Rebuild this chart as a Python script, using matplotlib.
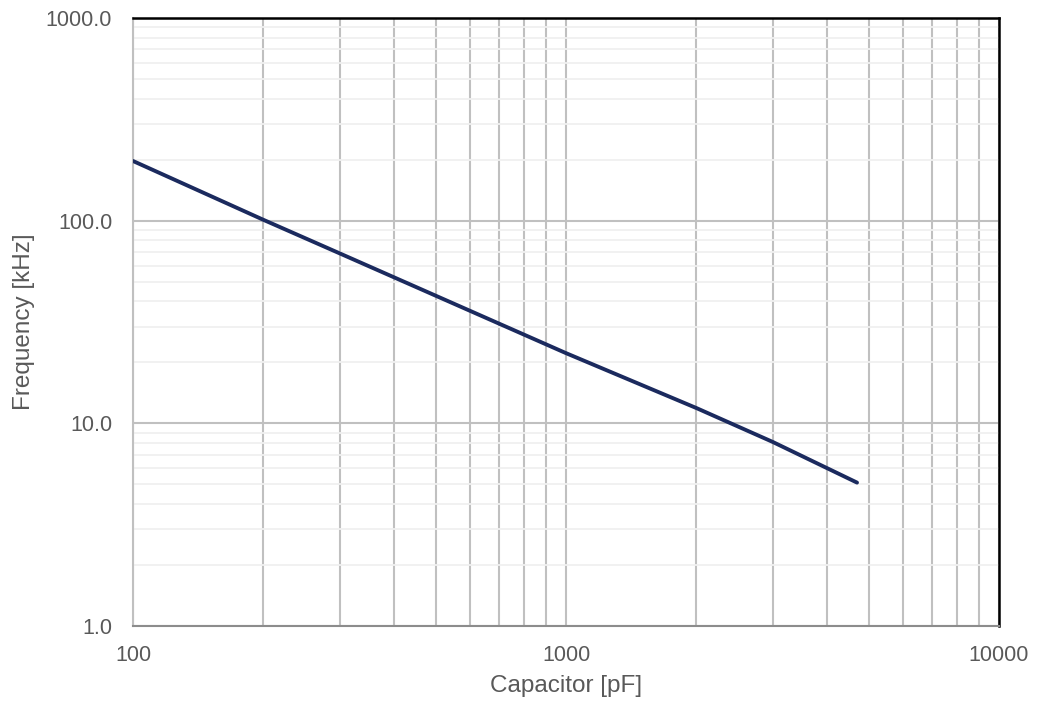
import matplotlib
matplotlib.use("Agg")
import matplotlib.pyplot as plt
from matplotlib.ticker import LogLocator, FixedLocator, FuncFormatter, NullFormatter

plt.rcParams['font.family'] = ['Liberation Sans', 'DejaVu Sans']

# values
capacitor_pf = [100, 200, 300, 1000, 2000, 3000, 4700]
frequency_khz = [197, 101, 69, 22.2, 11.9, 8.1, 5.1]

x_ticks = [100, 1000, 10000]
y_ticks = [1, 10, 100, 1000]

text_gray = '#595959'
grid_gray = '#c0c0c0'
minor_gray = '#f0f0f0'

fig = plt.figure(figsize=(10.4, 7.06), dpi=100)
ax = fig.add_axes([133 / 1040, 1 - 626 / 706, 866 / 1040, 608 / 706])

ax.set_xscale('log')
ax.set_yscale('log')
ax.set_xlim(100, 10000)
ax.set_ylim(1, 1000)

ax.plot(capacitor_pf, frequency_khz, color='#1b2a5e', linewidth=2.8,
        solid_capstyle='round', zorder=3)

ax.xaxis.set_major_locator(FixedLocator(x_ticks))
ax.xaxis.set_minor_locator(LogLocator(base=10, subs=range(2, 10)))
ax.yaxis.set_major_locator(FixedLocator(y_ticks))
ax.yaxis.set_minor_locator(LogLocator(base=10, subs=range(2, 10)))
ax.xaxis.set_major_formatter(FuncFormatter(lambda v, p: f'{v:.0f}'))
ax.yaxis.set_major_formatter(FuncFormatter(lambda v, p: f'{v:.1f}'))
ax.xaxis.set_minor_formatter(NullFormatter())
ax.yaxis.set_minor_formatter(NullFormatter())

ax.grid(True, which='major', axis='both', color=grid_gray, linewidth=1.5)
ax.grid(True, which='minor', axis='x', color=grid_gray, linewidth=1.5)
ax.grid(True, which='minor', axis='y', color=minor_gray, linewidth=1.3)
ax.set_axisbelow(True)

ax.tick_params(which='both', length=0, labelsize=15.5, colors=text_gray)
ax.tick_params(axis='y', pad=15)
ax.tick_params(axis='x', pad=14)

ax.spines['top'].set_color('black')
ax.spines['top'].set_linewidth(1.8)
ax.spines['right'].set_color('black')
ax.spines['right'].set_linewidth(1.8)
ax.spines['left'].set_color(grid_gray)
ax.spines['left'].set_linewidth(1.5)
ax.spines['bottom'].set_color('#8c8c8c')
ax.spines['bottom'].set_linewidth(1.5)

ax.set_xlabel('Capacitor [pF]', fontsize=17.5, color=text_gray, labelpad=6)
ax.set_ylabel('Frequency [kHz]', fontsize=17.5, color=text_gray, labelpad=8)

fig.savefig('out.png', dpi=100)
